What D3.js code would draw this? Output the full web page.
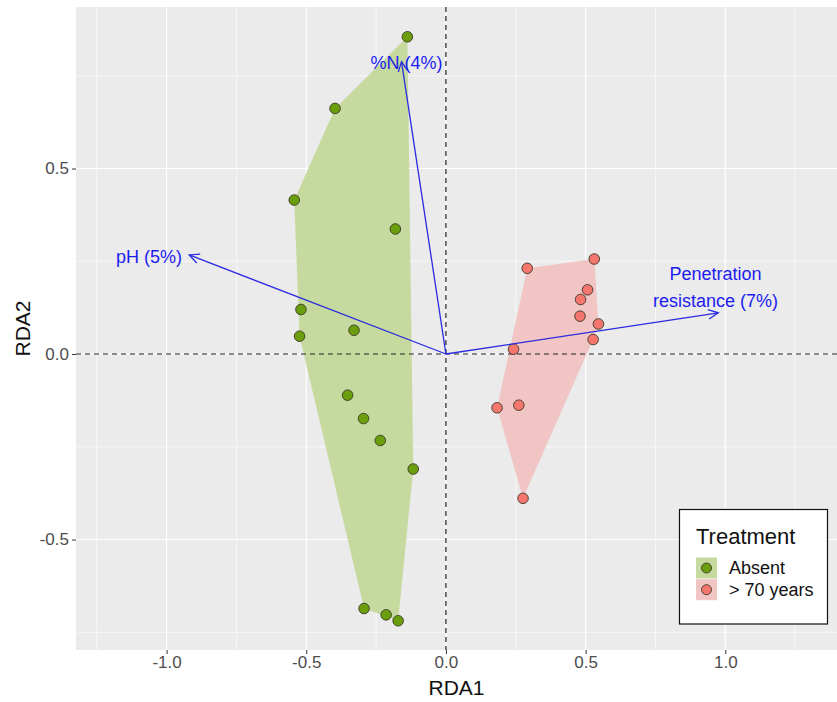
<!DOCTYPE html>
<html><head><meta charset="utf-8">
<script src="https://cdn.jsdelivr.net/npm/d3@7"></script>
<style>body{margin:0;background:#fff;} text{font-family:Arial,"Liberation Sans",sans-serif;}</style>
</head><body><svg id="c" width="837" height="702"></svg>
<script>
const absentX = [-0.138,-0.397,-0.543,-0.181,-0.519,-0.524,-0.329,-0.352,-0.295,-0.235,-0.117,-0.293,-0.214,-0.171];
const absentY = [0.855,0.662,0.415,0.337,0.120,0.048,0.064,-0.111,-0.174,-0.233,-0.310,-0.686,-0.703,-0.719];
const oldX = [0.291,0.531,0.507,0.482,0.480,0.546,0.527,0.242,0.183,0.261,0.276];
const oldY = [0.231,0.256,0.173,0.147,0.102,0.081,0.039,0.013,-0.145,-0.138,-0.389];
const arrowNames = ["pH (5%)","%N (4%)","Penetration\nresistance (7%)"];
const arrowX = [-0.919,-0.159,0.975];
const arrowY = [0.267,0.788,0.111];
const labelX = [-1.063,-0.141,0.965];
const labelY = [0.262,0.786,0.18];
const groups = ["Absent","> 70 years"];
const xTicks = [-1.0,-0.5,0.0,0.5,1.0];
const yTicks = [-0.5,0.0,0.5];
const xMinor = [-1.25,-0.75,-0.25,0.25,0.75,1.25];
const yMinor = [-0.75,-0.25,0.25,0.75];

const svg = d3.select("#c");
const L=76,R=837,T=7,B=650;
const x = d3.scaleLinear().domain([-1.3243,1.4]).range([L,R]);
const y = d3.scaleLinear().domain([-0.7978,0.9353]).range([B,T]);
const fmt = v => d3.format(".1f")(v).replace("−","-");

svg.append("rect").attr("x",L).attr("y",T).attr("width",R-L).attr("height",B-T).attr("fill","#EBEBEB");
const g = svg.append("g");
xMinor.forEach(v=>g.append("line").attr("x1",x(v)).attr("x2",x(v)).attr("y1",T).attr("y2",B).attr("stroke","#fff").attr("stroke-width",0.6));
yMinor.forEach(v=>g.append("line").attr("y1",y(v)).attr("y2",y(v)).attr("x1",L).attr("x2",R).attr("stroke","#fff").attr("stroke-width",0.6));
xTicks.forEach(v=>g.append("line").attr("x1",x(v)).attr("x2",x(v)).attr("y1",T).attr("y2",B).attr("stroke","#fff").attr("stroke-width",1.2));
yTicks.forEach(v=>g.append("line").attr("y1",y(v)).attr("y2",y(v)).attr("x1",L).attr("x2",R).attr("stroke","#fff").attr("stroke-width",1.2));

// axes
const xa = svg.append("g").attr("transform",`translate(0,${B})`).call(d3.axisBottom(x).tickValues(xTicks).tickFormat(fmt).tickSize(4).tickPadding(2));
const ya = svg.append("g").attr("transform",`translate(${L},0)`).call(d3.axisLeft(y).tickValues(yTicks).tickFormat(fmt).tickSize(4).tickPadding(3));
[xa,ya].forEach(a=>{a.attr("font-family",null).attr("font-size",null);a.select(".domain").remove();a.selectAll("line").attr("stroke","#333");a.selectAll("text").attr("fill","#4D4D4D").style("font-size","17px");});

// hulls
const sets = [
 {xs:absentX,ys:absentY,fill:"#6b9e0c",hull:"#c6da9f"},
 {xs:oldX,ys:oldY,fill:"#f4766d",hull:"#f1c5c4"}
];
sets.forEach(s=>{
  const pts = s.xs.map((v,i)=>[x(v),y(s.ys[i])]);
  const h = d3.polygonHull(pts);
  svg.append("path").attr("d","M"+h.join("L")+"Z").attr("fill",s.hull);
});
// dashed zero lines
svg.append("line").attr("x1",L).attr("x2",R).attr("y1",y(0)).attr("y2",y(0)).attr("stroke","#222").attr("stroke-width",1.2).attr("stroke-dasharray","5,4");
svg.append("line").attr("x1",x(0)).attr("x2",x(0)).attr("y1",T).attr("y2",B).attr("stroke","#222").attr("stroke-width",1.2).attr("stroke-dasharray","5,4");

// points
sets.forEach(s=>{
  s.xs.forEach((v,i)=>svg.append("circle").attr("cx",x(v)).attr("cy",y(s.ys[i])).attr("r",5.3).attr("fill",s.fill).attr("stroke","#3a3a2a").attr("stroke-width",0.9));
});

// arrows
const acol = "#2a2ae0";
arrowX.forEach((v,i)=>{
  const x0=x(0),y0=y(0),x1=x(v),y1=y(arrowY[i]);
  svg.append("line").attr("x1",x0).attr("y1",y0).attr("x2",x1).attr("y2",y1).attr("stroke",acol).attr("stroke-width",1.3);
  const ang=Math.atan2(y1-y0,x1-x0), len=11, sp=Math.PI/7;
  const p1=[x1-len*Math.cos(ang-sp),y1-len*Math.sin(ang-sp)], p2=[x1-len*Math.cos(ang+sp),y1-len*Math.sin(ang+sp)];
  svg.append("path").attr("d",`M${p1}L${x1},${y1}L${p2}`).attr("fill","none").attr("stroke",acol).attr("stroke-width",1.3);
  const lines = arrowNames[i].split("\n");
  const t = svg.append("text").attr("x",x(labelX[i])).attr("y",y(labelY[i])).attr("text-anchor","middle").attr("fill","#1c1cf0").style("font-size","18px");
  lines.forEach((ln,j)=>t.append("tspan").attr("x",x(labelX[i])).attr("dy", j===0 ? (0.35-(lines.length-1)*0.75)+"em" : "1.5em").text(ln));
});

// axis titles
svg.append("text").attr("x",(L+R)/2).attr("y",695).attr("text-anchor","middle").style("font-size","21px").attr("fill","#111").text("RDA1");
svg.append("text").attr("transform",`translate(30,${(T+B)/2}) rotate(-90)`).attr("text-anchor","middle").style("font-size","21px").attr("fill","#111").text("RDA2");

// legend
const lg = svg.append("g");
lg.append("rect").attr("x",679.5).attr("y",509.5).attr("width",148).attr("height",114.5).attr("fill","#fff").attr("stroke","#111").attr("stroke-width",1.2);
lg.append("text").attr("x",696).attr("y",544).style("font-size","22px").attr("fill","#111").text("Treatment");
groups.forEach((gname,i)=>{
  const yy = 557.5+i*21.7;
  lg.append("rect").attr("x",696).attr("y",yy).attr("width",21).attr("height",21).attr("fill",sets[i].hull);
  lg.append("circle").attr("cx",706.5).attr("cy",yy+10.5).attr("r",5).attr("fill",sets[i].fill).attr("stroke","#3a3a2a").attr("stroke-width",0.9);
  lg.append("text").attr("x",729).attr("y",yy+10.5).attr("dy","0.35em").style("font-size","18px").attr("fill","#111").text(gname);
});
</script></body></html>
